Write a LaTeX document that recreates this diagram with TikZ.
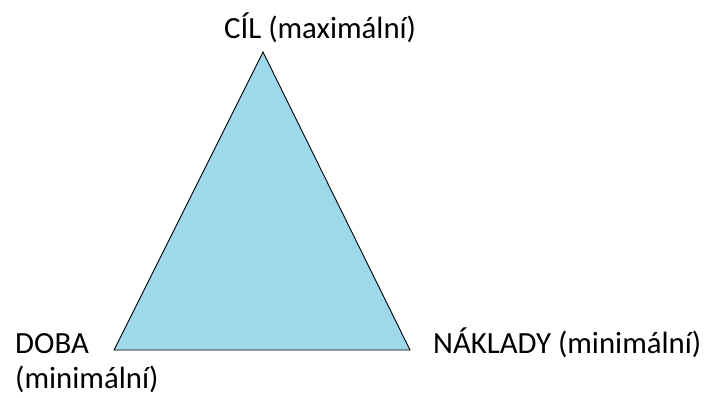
\documentclass[tikz,border=0pt]{standalone}
\usepackage{fontspec}
\setmainfont{Carlito}
\definecolor{triblue}{RGB}{157,217,234}
\begin{document}
\begin{tikzpicture}[x=1pt,y=1pt,
  corner/.style={inner sep=0pt, font=\fontsize{30.8}{35}\selectfont},
  tri/.style={draw=black, fill=triblue, line width=0.9pt, line join=miter}]
\useasboundingbox (0,0) rectangle (706,397);
% vertices of the triangle
\coordinate (top) at (263,345);
\coordinate (left) at (114,47);
\coordinate (right) at (410,47);
\draw[tri] (top) -- (left) -- (right) -- cycle;
% labels at the corners
\node[corner, anchor=base west] (goal) at (224,358) {CÍL (maximální)};
\node[corner, anchor=base west, align=left] (time) at (15,9) {DOBA\\(minimální)};
\node[corner, anchor=base west] (cost) at (433,44) {NÁKLADY (minimální)};
\end{tikzpicture}
\end{document}
